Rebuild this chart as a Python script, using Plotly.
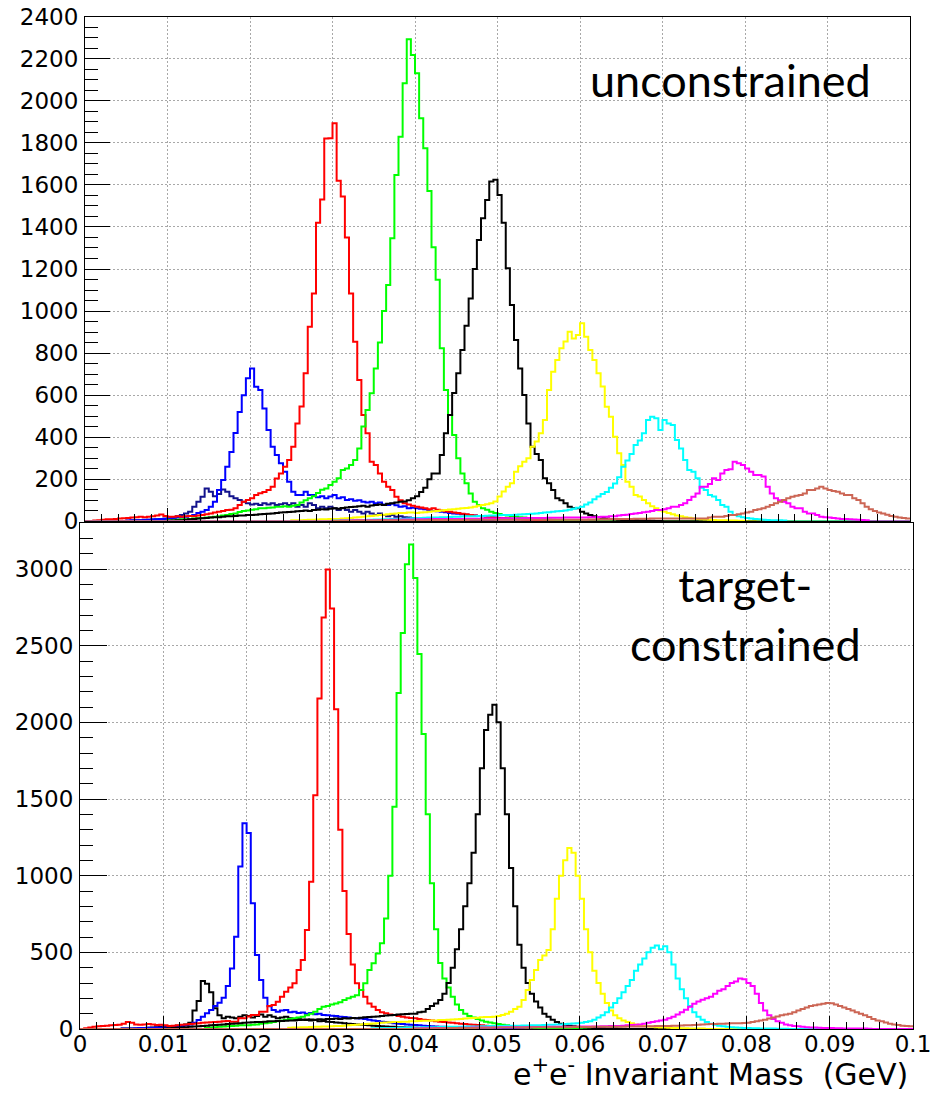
import plotly.graph_objects as go

# Histogram binning (GeV)
BIN_WIDTH = 0.0005
N_BINS = 200

X_TICK_VALUES = [0.0, 0.01, 0.02, 0.03, 0.04, 0.05, 0.06, 0.07, 0.08, 0.09, 0.1]
X_TICK_LABELS = ["0", "0.01", "0.02", "0.03", "0.04", "0.05", "0.06", "0.07", "0.08", "0.09", "0.1"]

# ---------------- unconstrained fit: bin counts from a first bin edge ----------------
U_M015_START = 0.0050
U_M015 = [3, 4, 5, 6, 6, 8, 8, 10, 12, 14,
          15, 20, 25, 30, 38, 46, 70, 94, 117, 157,
          141, 120, 130, 152, 141, 120, 110, 102, 94, 86,
          80, 84, 78, 86, 80, 86, 78, 82, 86, 78,
          86, 70, 78, 70, 86, 78, 62, 70, 62, 70,
          62, 54, 62, 54, 46, 54, 46, 38, 46, 38,
          30, 38, 30, 25, 30, 22, 25, 20, 18, 15,
          14, 12, 12, 10, 10, 8, 8, 7, 6, 5,
          5, 4, 4, 3, 3, 3, 2, 2, 2, 1]

U_M020_START = 0.0050
U_M020 = [4, 5, 6, 6, 8, 8, 10, 10, 12, 12,
          14, 16, 18, 20, 22, 26, 30, 40, 46, 54,
          70, 94, 149, 197, 260, 330, 420, 520, 600, 680,
          727, 640, 625, 537, 435, 355, 316, 276, 236, 189,
          141, 126, 126, 141, 126, 126, 115, 120, 110, 118,
          125, 110, 115, 102, 105, 98, 100, 94, 90, 94,
          86, 90, 80, 78, 84, 77, 70, 72, 62, 65,
          62, 60, 58, 54, 50, 48, 46, 44, 40, 38,
          36, 34, 32, 30, 28, 26, 24, 22, 20, 18,
          16, 15, 14, 13, 12, 11, 10, 9, 8, 8,
          7, 7, 6, 6, 5, 5, 5, 4, 4, 4]

U_M030_START = 0.0000
U_M030 = [0, 2, 4, 6, 8, 10, 10, 12, 14, 15,
          16, 18, 20, 22, 20, 22, 24, 28, 33, 26,
          22, 22, 24, 22, 24, 26, 24, 28, 30, 34,
          38, 42, 46, 50, 54, 55, 62, 78, 94, 102,
          110, 126, 134, 140, 149, 165, 204, 228, 260, 292,
          355, 466, 546, 704, 926, 1084, 1420, 1530, 1820, 1822,
          1893, 1620, 1545, 1350, 1084, 854, 672, 506, 419, 284,
          268, 228, 189, 165, 149, 117, 101, 86, 80, 75,
          70, 66, 62, 58, 62, 55, 52, 48, 46, 42,
          40, 36, 34, 30, 28, 26, 24, 22, 20, 18,
          16, 15, 14, 12, 11, 10, 9, 8, 8, 7,
          6, 6, 5, 5, 4, 4, 3, 3, 2, 2]

U_M040_START = 0.0100
U_M040 = [5, 6, 8, 10, 10, 12, 14, 15, 16, 18,
          20, 22, 25, 28, 30, 35, 38, 45, 50, 52,
          55, 58, 62, 62, 65, 66, 70, 70, 72, 70,
          74, 78, 90, 101, 110, 120, 135, 150, 157, 173,
          189, 205, 244, 252, 268, 292, 347, 451, 530, 609,
          727, 850, 1000, 1124, 1346, 1647, 1829, 2083, 2292, 2218,
          2131, 1917, 1774, 1571, 1303, 1149, 823, 625, 506, 411,
          300, 228, 181, 133, 94, 78, 62, 55, 46, 40,
          35, 30, 28, 25, 22, 20, 18, 16, 14, 12,
          11, 10, 9, 8, 7, 6, 6, 5, 5, 4]

U_M050_START = 0.0100
U_M050 = [3, 4, 5, 6, 8, 10, 12, 14, 15, 16,
          18, 20, 20, 22, 24, 25, 26, 28, 28, 30,
          30, 32, 34, 35, 36, 38, 40, 42, 44, 45,
          46, 48, 50, 52, 50, 54, 55, 58, 56, 60,
          62, 60, 64, 66, 68, 70, 72, 74, 70, 76,
          78, 80, 78, 84, 86, 90, 93, 95, 100, 110,
          120, 140, 160, 200, 228, 228, 316, 419, 506, 610,
          704, 815, 930, 1060, 1200, 1338, 1441, 1528, 1616, 1624,
          1552, 1420, 1203, 1029, 862, 727, 601, 466, 355, 320,
          292, 205, 181, 149, 110, 101, 86, 70, 62, 62,
          46, 38, 30, 25, 20, 16, 14, 12, 10, 8,
          7, 6, 5, 5, 4, 4, 3, 3, 2, 2]

U_M060_START = 0.0250
U_M060 = [5, 6, 6, 7, 8, 8, 9, 10, 10, 11,
          12, 12, 14, 15, 16, 18, 20, 22, 24, 26,
          28, 30, 32, 34, 36, 38, 40, 40, 42, 42,
          40, 42, 44, 46, 48, 50, 52, 54, 56, 58,
          60, 62, 64, 66, 70, 74, 78, 82, 86, 95,
          118, 142, 165, 181, 236, 262, 284, 300, 355, 380,
          419, 482, 625, 712, 767, 823, 855, 902, 870, 886,
          942, 878, 815, 767, 704, 641, 545, 498, 403, 324,
          268, 189, 165, 126, 118, 102, 86, 72, 62, 52,
          46, 40, 34, 28, 24, 20, 17, 14, 12, 10,
          9, 8, 7, 6, 5, 5, 4, 4, 3, 3]

U_M070_START = 0.0300
U_M070 = [4, 4, 5, 5, 6, 6, 7, 7, 8, 8,
          9, 9, 10, 10, 11, 12, 12, 13, 14, 15,
          15, 16, 17, 18, 18, 19, 20, 20, 21, 22,
          22, 23, 24, 24, 25, 26, 26, 27, 28, 28,
          29, 30, 30, 31, 32, 33, 34, 35, 36, 38,
          40, 42, 44, 46, 48, 50, 52, 55, 60, 65,
          70, 80, 90, 105, 118, 130, 140, 160, 180, 210,
          260, 290, 320, 363, 385, 419, 482, 498, 490, 434,
          482, 466, 458, 387, 347, 292, 244, 236, 205, 160,
          149, 125, 118, 102, 78, 70, 46, 30, 25, 20,
          16, 14, 12, 10, 8, 7, 6, 5, 5, 4]

U_M080_START = 0.0300
U_M080 = [3, 3, 4, 4, 4, 5, 5, 5, 6, 6,
          6, 7, 7, 7, 8, 8, 8, 9, 9, 9,
          10, 10, 10, 10, 11, 11, 11, 12, 12, 12,
          12, 12, 13, 13, 13, 13, 14, 14, 14, 14,
          14, 15, 15, 15, 15, 15, 16, 16, 16, 16,
          16, 16, 17, 17, 17, 17, 18, 18, 18, 18,
          19, 19, 20, 20, 21, 22, 22, 24, 25, 28,
          30, 32, 35, 38, 40, 44, 46, 50, 54, 54,
          58, 62, 70, 70, 78, 86, 102, 117, 133, 165,
          165, 178, 205, 197, 228, 244, 248, 284, 276, 268,
          252, 236, 221, 221, 213, 165, 133, 110, 100, 94,
          86, 70, 62, 62, 46, 38, 38, 30, 22, 20,
          18, 16, 14, 12, 11, 10, 9, 8, 7, 6]

U_M090_START = 0.0300
U_M090 = [2, 2, 3, 3, 3, 3, 4, 4, 4, 4,
          4, 5, 5, 5, 5, 5, 6, 6, 6, 6,
          6, 6, 6, 7, 7, 7, 7, 7, 7, 7,
          7, 7, 7, 8, 8, 8, 8, 8, 8, 8,
          8, 8, 8, 8, 8, 8, 8, 8, 8, 8,
          8, 8, 8, 8, 8, 8, 8, 8, 8, 8,
          8, 8, 9, 9, 10, 10, 10, 11, 11, 12,
          12, 12, 12, 13, 13, 13, 13, 14, 14, 14,
          14, 14, 14, 14, 14, 14, 14, 14, 14, 14,
          14, 18, 22, 22, 22, 26, 30, 30, 34, 38,
          42, 46, 54, 58, 62, 70, 78, 86, 94, 102,
          110, 117, 122, 125, 133, 149, 149, 157, 165, 157,
          149, 145, 141, 133, 125, 125, 110, 102, 86, 70,
          58, 50, 42, 38, 32, 26, 22, 18, 16, 14]

# ---------------- target-constrained fit ----------------
C_M015_START = 0.0050
C_M015 = [3, 3, 4, 4, 5, 6, 8, 10, 12, 14,
          16, 18, 20, 22, 25, 30, 40, 120, 183, 313,
          295, 240, 135, 90, 70, 80, 75, 70, 80, 90,
          85, 75, 85, 95, 80, 90, 80, 70, 75, 80,
          70, 65, 70, 60, 62, 55, 58, 50, 52, 48,
          45, 42, 40, 38, 35, 32, 30, 28, 26, 24,
          22, 20, 18, 16, 15, 14, 12, 11, 10, 9,
          8, 7, 6, 5, 5, 4, 4, 3, 3, 2]

C_M020_START = 0.0050
C_M020 = [3, 4, 4, 5, 6, 6, 8, 8, 10, 10,
          12, 14, 16, 18, 20, 24, 30, 40, 59, 80,
          102, 124, 150, 171, 203, 280, 395, 601, 1060, 1342,
          1278, 820, 483, 319, 203, 148, 124, 113, 120, 124,
          110, 112, 105, 108, 100, 104, 96, 100, 92, 90,
          86, 84, 80, 78, 75, 72, 70, 68, 66, 60,
          56, 52, 48, 45, 42, 38, 35, 32, 30, 28,
          26, 24, 22, 20, 18, 16, 15, 14, 12, 11,
          10, 9, 8, 7, 6, 6, 5, 5, 4, 4]

C_M030_START = 0.0000
C_M030 = [0, 5, 10, 14, 18, 20, 22, 24, 26, 28,
          35, 45, 40, 30, 28, 30, 32, 30, 26, 28,
          24, 20, 22, 25, 28, 30, 32, 35, 38, 40,
          42, 44, 46, 48, 50, 52, 48, 48, 70, 70,
          81, 92, 92, 113, 113, 150, 157, 178, 210, 243,
          270, 298, 385, 450, 645, 960, 1525, 2156, 2684, 2996,
          2742, 2086, 1300, 900, 620, 420, 298, 254, 211, 167,
          145, 124, 110, 102, 95, 91, 85, 80, 75, 72,
          70, 65, 60, 58, 55, 50, 48, 45, 42, 40,
          38, 35, 33, 30, 28, 26, 24, 22, 20, 18,
          17, 16, 15, 14, 13, 12, 11, 10, 9, 8,
          8, 7, 6, 6, 5, 5, 4, 4, 3, 3]

C_M040_START = 0.0150
C_M040 = [8, 10, 12, 14, 16, 18, 20, 22, 24, 25,
          25, 28, 30, 35, 38, 40, 45, 50, 55, 60,
          65, 70, 75, 80, 90, 100, 113, 130, 145, 150,
          160, 167, 175, 189, 200, 211, 220, 254, 298, 385,
          428, 493, 560, 720, 1000, 1450, 2192, 2583, 3031, 3159,
          2942, 2445, 1924, 1400, 950, 650, 430, 330, 270, 210,
          160, 124, 100, 85, 75, 65, 55, 48, 42, 37,
          32, 28, 24, 20, 17, 14, 12, 10, 9, 8,
          7, 6, 6, 5, 5, 4, 4, 3, 3, 2]

C_M050_START = 0.0100
C_M050 = [4, 5, 6, 8, 10, 12, 14, 16, 18, 20,
          22, 24, 26, 28, 30, 32, 34, 36, 38, 40,
          42, 44, 45, 46, 48, 50, 50, 52, 52, 54,
          55, 56, 58, 60, 58, 62, 60, 64, 62, 66,
          65, 68, 66, 70, 68, 72, 70, 74, 76, 78,
          80, 82, 85, 88, 90, 92, 94, 96, 98, 100,
          100, 110, 113, 130, 150, 167, 189, 230, 300, 400,
          520, 650, 800, 950, 1150, 1400, 1700, 1950, 2050, 2115,
          2000, 1700, 1400, 1050, 800, 550, 400, 300, 230, 180,
          140, 100, 80, 60, 45, 35, 28, 22, 18, 14,
          12, 10, 8, 7, 6, 5, 4, 3, 3, 2]

C_M060_START = 0.0250
C_M060 = [8, 9, 10, 11, 12, 13, 14, 15, 16, 17,
          18, 19, 20, 22, 24, 26, 28, 30, 32, 34,
          36, 38, 40, 42, 44, 45, 46, 47, 48, 50,
          50, 52, 53, 54, 55, 56, 58, 59, 60, 62,
          64, 66, 68, 70, 72, 74, 76, 78, 79, 80,
          85, 91, 100, 113, 130, 145, 189, 254, 320, 385,
          450, 480, 515, 650, 850, 1000, 1100, 1180, 1150, 1000,
          850, 650, 500, 380, 300, 230, 170, 120, 90, 70,
          55, 45, 38, 30, 25, 20, 17, 14, 12, 10,
          9, 8, 7, 6, 5, 5, 4, 4, 3, 3]

C_M070_START = 0.0350
C_M070 = [5, 5, 6, 6, 7, 7, 8, 8, 9, 9,
          10, 10, 11, 11, 12, 12, 13, 13, 14, 14,
          15, 15, 16, 16, 17, 17, 18, 18, 19, 19,
          20, 20, 21, 21, 22, 22, 23, 23, 24, 24,
          25, 26, 27, 28, 29, 30, 32, 34, 36, 38,
          40, 45, 50, 60, 75, 90, 110, 140, 170, 200,
          240, 280, 320, 380, 420, 460, 500, 530, 545, 520,
          540, 500, 420, 330, 260, 200, 150, 110, 80, 60,
          45, 35, 28, 22, 18, 15, 12, 10, 8, 7,
          6, 5, 5, 4, 4, 3, 3, 2, 2, 2]

C_M080_START = 0.0400
C_M080 = [4, 4, 5, 5, 5, 6, 6, 6, 7, 7,
          7, 8, 8, 8, 9, 9, 9, 10, 10, 10,
          10, 11, 11, 11, 12, 12, 12, 12, 13, 13,
          13, 13, 14, 14, 14, 14, 15, 15, 15, 15,
          16, 16, 16, 17, 17, 18, 18, 19, 19, 20,
          22, 24, 26, 28, 30, 35, 40, 45, 50, 55,
          60, 70, 80, 95, 110, 125, 145, 165, 180, 190,
          200, 210, 230, 250, 260, 280, 300, 310, 330, 325,
          300, 280, 230, 170, 120, 90, 65, 50, 40, 30,
          25, 20, 18, 15, 12, 10, 9, 8, 7, 6,
          6, 5, 5, 4, 4, 4, 3, 3, 3, 2]

C_M090_START = 0.0400
C_M090 = [3, 3, 4, 4, 4, 5, 5, 5, 6, 6,
          6, 6, 7, 7, 7, 8, 8, 8, 8, 9,
          9, 9, 9, 10, 10, 10, 10, 10, 11, 11,
          11, 11, 11, 12, 12, 12, 12, 12, 13, 13,
          13, 13, 13, 14, 14, 14, 14, 15, 15, 15,
          15, 16, 16, 16, 17, 17, 18, 18, 19, 19,
          20, 20, 21, 22, 23, 24, 25, 26, 28, 30,
          31, 32, 33, 34, 35, 36, 37, 38, 38, 39,
          40, 45, 50, 55, 60, 68, 75, 82, 90, 95,
          100, 110, 120, 130, 140, 150, 155, 160, 165, 170,
          168, 160, 150, 140, 130, 120, 110, 100, 90, 78,
          65, 55, 50, 42, 35, 30, 26, 22, 20, 18]

NAVY = "#12128c"
BLUE = "#0000ff"
RED = "#ff0000"
GREEN = "#00ff00"
BLACK = "#000000"
YELLOW = "#ffff00"
CYAN = "#00ffff"
MAGENTA = "#ff00ff"
BROWN = "#cc6655"

TOP_PANEL = [
    (U_M015_START, U_M015, NAVY),
    (U_M020_START, U_M020, BLUE),
    (U_M030_START, U_M030, RED),
    (U_M040_START, U_M040, GREEN),
    (U_M050_START, U_M050, BLACK),
    (U_M060_START, U_M060, YELLOW),
    (U_M070_START, U_M070, CYAN),
    (U_M080_START, U_M080, MAGENTA),
    (U_M090_START, U_M090, BROWN),
]
BOTTOM_PANEL = [
    (C_M015_START, C_M015, BLACK),
    (C_M020_START, C_M020, BLUE),
    (C_M030_START, C_M030, RED),
    (C_M040_START, C_M040, GREEN),
    (C_M050_START, C_M050, BLACK),
    (C_M060_START, C_M060, YELLOW),
    (C_M070_START, C_M070, CYAN),
    (C_M080_START, C_M080, MAGENTA),
    (C_M090_START, C_M090, BROWN),
]


def bin_contents(first_edge, counts):
    contents = [0] * N_BINS
    first = int(round(first_edge / BIN_WIDTH))
    for k, c in enumerate(counts):
        if 0 <= first + k < N_BINS:
            contents[first + k] = c
    return contents


def step_trace(first_edge, counts, color, xaxis, yaxis):
    contents = bin_contents(first_edge, counts)
    edges = [i * BIN_WIDTH for i in range(N_BINS + 1)]
    return go.Scatter(
        x=edges, y=contents + [contents[-1]],
        mode="lines", line=dict(color=color, width=2, shape="hv"),
        xaxis=xaxis, yaxis=yaxis, hoverinfo="skip", showlegend=False,
    )


fig = go.Figure()
for start, counts, color in TOP_PANEL:
    fig.add_trace(step_trace(start, counts, color, "x", "y"))
for start, counts, color in BOTTOM_PANEL:
    fig.add_trace(step_trace(start, counts, color, "x2", "y2"))

W, H = 938, 1093
TICK_FONT = dict(family="DejaVu Sans", size=23, color="black")
GRID = dict(showgrid=True, gridcolor="#a8a8a8", gridwidth=1, griddash="2px,2px")
FRAME = dict(showline=True, linecolor="black", linewidth=1, mirror=True, zeroline=False, automargin=False)


def x_axis(domain_px, anchor, labels):
    return dict(
        domain=[domain_px[0] / W, domain_px[1] / W], anchor=anchor, range=[0, 0.1],
        tickmode="array", tickvals=X_TICK_VALUES, ticktext=X_TICK_LABELS,
        showticklabels=labels, ticks="inside", ticklen=13, tickwidth=1, tickcolor="black",
        minor=dict(ticks="inside", ticklen=7, tickwidth=1, tickcolor="black", dtick=0.002, showgrid=False),
        tickfont=TICK_FONT, ticklabelstandoff=-6, **GRID, **FRAME,
    )


def y_axis(domain_px, anchor, top, major, minor, ticklen):
    return dict(
        domain=[1 - domain_px[1] / H, 1 - domain_px[0] / H], anchor=anchor, range=[0, top],
        dtick=major, tick0=0, ticks="inside", ticklen=ticklen, tickwidth=1, tickcolor="black",
        minor=dict(ticks="inside", ticklen=13, tickwidth=1, tickcolor="black", dtick=minor, showgrid=False),
        tickfont=TICK_FONT, ticklabelstandoff=1, **GRID, **FRAME,
    )


fig.update_layout(
    width=W, height=H, margin=dict(l=0, r=0, t=0, b=0, autoexpand=False),
    paper_bgcolor="white", plot_bgcolor="white", showlegend=False,
    xaxis=x_axis((85, 910), "y", False),
    yaxis=y_axis((16.6, 521.4), "x", 2400, 200, 50, 25),
    xaxis2=x_axis((80, 913), "y2", True),
    yaxis2=y_axis((523, 1029), "x2", 3300, 500, 100, 27),
)

fig.add_annotation(
    text="unconstrained", xref="paper", yref="paper",
    x=730 / W, y=1 - 80 / H, xanchor="center", yanchor="middle", showarrow=False,
    font=dict(family="Lato", size=45, color="black"),
)
fig.add_annotation(
    text="target-<br>constrained", xref="paper", yref="paper",
    x=745 / W, y=1 - 614 / H, xanchor="center", yanchor="middle", showarrow=False,
    font=dict(family="Lato", size=45, color="black"),
)
fig.add_annotation(
    text="e<sup>+</sup>e<sup>-</sup> Invariant Mass&nbsp; (GeV)", xref="paper", yref="paper",
    x=910 / W, y=1 - 1072 / H, xanchor="right", yanchor="middle", showarrow=False,
    font=dict(family="DejaVu Sans", size=30, color="black"),
)

fig.write_html("out.html")
